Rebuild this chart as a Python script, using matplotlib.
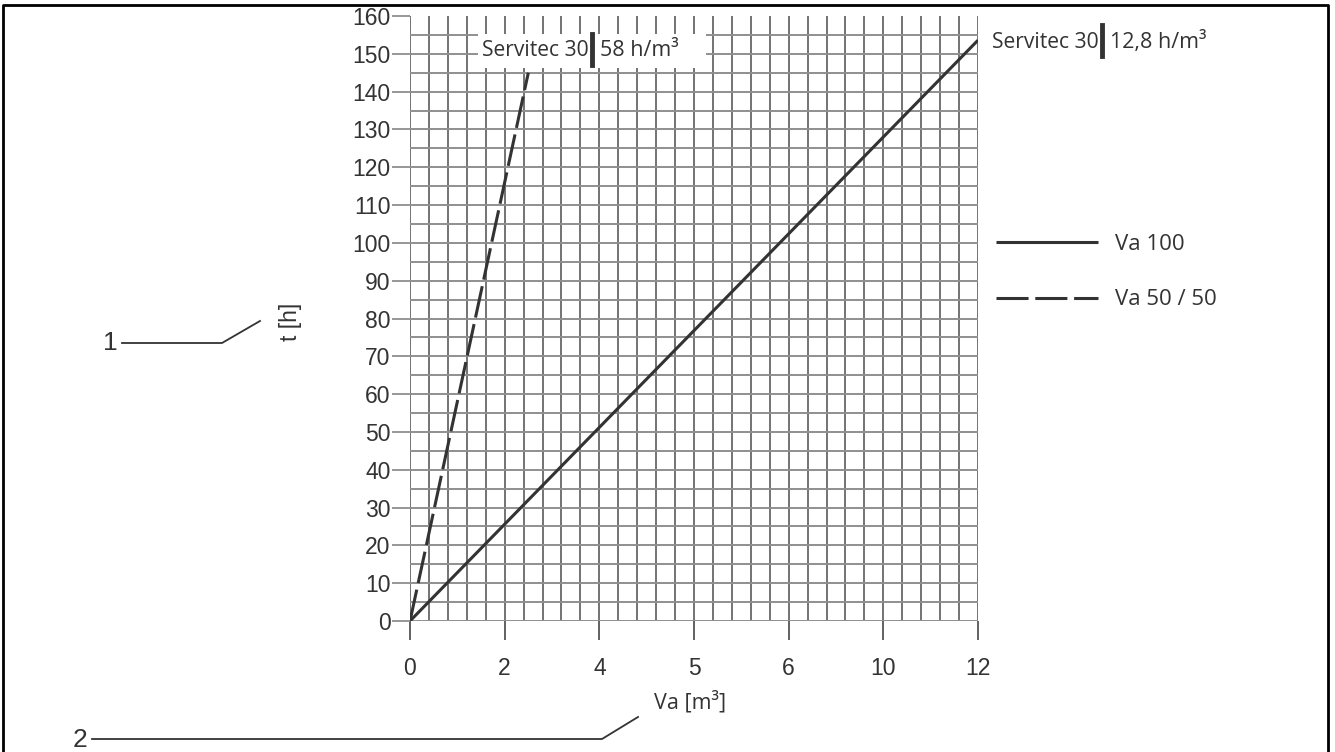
import numpy as np
import matplotlib
matplotlib.use('Agg')
import matplotlib.pyplot as plt
from matplotlib import font_manager

# values
x_tick_pos = [0, 2, 4, 6, 8, 10, 12]
x_tick_labels = ['0', '2', '4', '5', '6', '10', '12']
y_ticks = list(range(0, 161, 10))

va100_x = [0, 12]
va100_t = [0, 153.6]      # 12,8 h/m3
va5050_x = [0, 2.5]
va5050_t = [0, 145]       # 58 h/m3

names = {f.name for f in font_manager.fontManager.ttflist}
narrow = 'Liberation Sans Narrow' if 'Liberation Sans Narrow' in names else 'Open Sans'
plain = 'Liberation Sans'

ink = '#333333'
W, H = 1335, 752


def fx(px):
    return px / W


def fy(py):
    return 1 - py / H


fig = plt.figure(figsize=(13.35, 7.52), dpi=100)
ax = fig.add_axes([fx(410), fy(621), 568 / W, 605 / H])
ax.set_xlim(0, 12)
ax.set_ylim(0, 160)

# grid paper
ax.vlines(np.arange(0, 12.01, 0.4), 0, 160, color='#4d4d4d', lw=1.1, zorder=1)
ax.hlines(np.arange(0, 156, 5), 0, 12, color='#8f8f8f', lw=1.4, zorder=1)
for s in ax.spines.values():
    s.set_visible(False)

ax.set_xticks(x_tick_pos)
ax.set_xticklabels(x_tick_labels)
ax.set_yticks(y_ticks)
ax.tick_params(axis='y', length=13, width=1.3, color='#8f8f8f', pad=1,
               labelsize=16.5, labelcolor=ink)
ax.tick_params(axis='x', length=14, width=1.3, color='#555555', pad=12,
               labelsize=16.5, labelcolor=ink)
for lab in ax.get_xticklabels() + ax.get_yticklabels():
    lab.set_family(plain)

ax.plot(va100_x, va100_t, color=ink, lw=2.2, solid_capstyle='butt', zorder=3,
        label='Va 100')
ax.plot(va5050_x, va5050_t, color=ink, lw=2.2, dashes=(10.5, 2.2), zorder=3,
        label='Va 50 / 50')

# white patch behind the upper left annotation
fig.add_artist(plt.Rectangle((fx(478), fy(68)), 228 / W, 34 / H,
                             facecolor='white', edgecolor='none', zorder=2))

# "Servitec 30 | value" annotations
for bar_x, cy, value in [(592, 51, '58 h/m³'), (1102, 42, '12,8 h/m³')]:
    fig.text(fx(bar_x - 3), fy(cy), 'Servitec 30', family=narrow, fontsize=15.2,
             color=ink, va='center', ha='right', zorder=4)
    fig.text(fx(bar_x + 8), fy(cy), value, family=narrow, fontsize=15.5,
             color=ink, va='center', ha='left', zorder=4)
    fig.add_artist(plt.Line2D([fx(bar_x), fx(bar_x)], [fy(cy - 17), fy(cy + 14)],
                              color=ink, lw=3.5, zorder=4))

leg = fig.legend(loc='upper left', bbox_to_anchor=(fx(976), fy(214)),
                 frameon=False, handlelength=4.6, handletextpad=0.75,
                 labelspacing=1.55, prop={'family': narrow, 'size': 16})
for t in leg.get_texts():
    t.set_color(ink)

fig.text(fx(690), fy(702), 'Va [m³]', family=narrow, fontsize=15.5, color=ink,
         va='center', ha='center')
fig.text(fx(290), fy(322), 't [h]', family=plain, fontsize=16.5,
         color=ink, rotation=90, va='center', ha='center')

# callouts 1 and 2
fig.text(fx(110), fy(343), '1', family=plain, fontsize=19, color=ink,
         va='center', ha='center')
fig.add_artist(plt.Line2D(fx(np.array([122, 222, 260])),
                          fy(np.array([343, 343, 321])), color=ink, lw=1.3))
fig.text(fx(80), fy(740), '2', family=plain, fontsize=19, color=ink,
         va='center', ha='center')
fig.add_artist(plt.Line2D(fx(np.array([92, 602, 638])),
                          fy(np.array([739, 739, 717])), color=ink, lw=1.3))

# outer frame
fig.add_artist(plt.Line2D(fx(np.array([3, 3, 1328, 1328])),
                          fy(np.array([760, 5, 5, 760])), color='black', lw=2))

fig.savefig('out.png', dpi=100)
